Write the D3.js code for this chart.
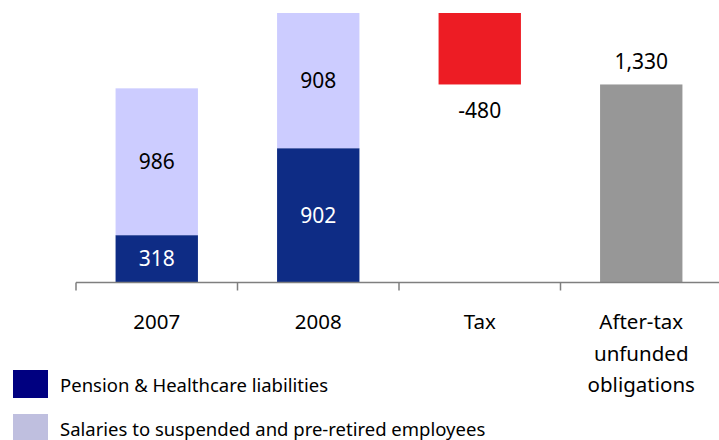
<!DOCTYPE html>
<html>
<head>
<meta charset="utf-8">
<script src="https://cdn.jsdelivr.net/npm/d3@7"></script>
<style>
  html, body { margin: 0; padding: 0; background: #fff; }
  svg { display: block; font-family: "Noto Sans", "Open Sans", sans-serif; }
</style>
</head>
<body>
<svg id="chart" width="719" height="440"></svg>
<script>
// Unfunded obligations walk (waterfall)
const categories = ["2007", "2008", "Tax", "After-tax unfunded obligations"];
const categoryLines = [["2007"], ["2008"], ["Tax"], ["After-tax", "unfunded", "obligations"]];
const stackYears = ["2007", "2008"];
const pensionValues = [318, 902];
const salaryValues = [986, 908];
const taxValue = -480;
const afterTaxValue = 1330;
const legendLabels = ["Pension & Healthcare liabilities", "Salaries to suspended and pre-retired employees"];

const colors = {
  pension: "#0e2c85",
  salary: "#ccccff",
  tax: "#ed1c24",
  afterTax: "#979797",
  legendPension: "#000080",
  legendSalary: "#bfbfdf",
  axis: "#7f7f7f"
};

const svg = d3.select("#chart");

const x = d3.scaleBand()
  .domain(categories)
  .range([76, 722])
  .paddingInner(0.49)
  .paddingOuter(0.245);

const maxTotal = pensionValues[1] + salaryValues[1];
const y = d3.scaleLinear().domain([0, maxTotal]).range([282.5, 13]);

// thousands separator with a plain hyphen for negatives
const locale = d3.formatLocale({ decimal: ".", thousands: ",", grouping: [3], currency: ["", ""], minus: "-" });
const fmt = locale.format(",");

// Stacked year bars
const stackRows = stackYears.map((yr, i) => ({ cat: yr, pension: pensionValues[i], salary: salaryValues[i] }));
const stack = d3.stack().keys(["pension", "salary"])(stackRows);

const segColor = { pension: colors.pension, salary: colors.salary };
const segText = { pension: "#ffffff", salary: "#000000" };

stack.forEach(layer => {
  const g = svg.append("g");
  g.selectAll("rect")
    .data(layer)
    .join("rect")
    .attr("x", d => x(d.data.cat))
    .attr("width", x.bandwidth())
    .attr("y", d => y(d[1]))
    .attr("height", d => y(d[0]) - y(d[1]))
    .attr("fill", segColor[layer.key]);
  g.selectAll("text")
    .data(layer)
    .join("text")
    .attr("x", d => x(d.data.cat) + x.bandwidth() / 2)
    .attr("y", d => (y(d[0]) + y(d[1])) / 2)
    .attr("dy", "0.36em")
    .attr("text-anchor", "middle")
    .attr("font-size", 21)
    .attr("fill", segText[layer.key])
    .text(d => fmt(d[1] - d[0]));
});

// Tax step bar hanging from the 2008 total
const taxTop = maxTotal;
const taxBottom = maxTotal + taxValue;
svg.append("rect")
  .attr("x", x("Tax"))
  .attr("width", x.bandwidth())
  .attr("y", y(taxTop))
  .attr("height", y(taxBottom) - y(taxTop))
  .attr("fill", colors.tax);
svg.append("text")
  .attr("x", x("Tax") + x.bandwidth() / 2)
  .attr("y", y(taxBottom) + 26)
  .attr("dy", "0.36em")
  .attr("text-anchor", "middle")
  .attr("font-size", 21)
  .text(fmt(taxValue));

// After-tax total bar
const lastCat = categories[3];
svg.append("rect")
  .attr("x", x(lastCat))
  .attr("width", x.bandwidth())
  .attr("y", y(afterTaxValue))
  .attr("height", y(0) - y(afterTaxValue))
  .attr("fill", colors.afterTax);
svg.append("text")
  .attr("x", x(lastCat) + x.bandwidth() / 2)
  .attr("y", y(afterTaxValue) - 23)
  .attr("dy", "0.36em")
  .attr("text-anchor", "middle")
  .attr("font-size", 21)
  .text(fmt(afterTaxValue));

// Category axis with ticks between categories
const axisG = svg.append("g");
const x0 = x.range()[0];
axisG.append("line")
  .attr("x1", x0).attr("x2", 719)
  .attr("y1", y(0)).attr("y2", y(0))
  .attr("stroke", colors.axis).attr("stroke-width", 1.5);
const boundaries = d3.range(categories.length + 1).map(i => x0 + i * x.step());
axisG.selectAll("line.tick")
  .data(boundaries)
  .join("line")
  .attr("class", "tick")
  .attr("x1", d => d).attr("x2", d => d)
  .attr("y1", y(0)).attr("y2", y(0) + 8)
  .attr("stroke", colors.axis).attr("stroke-width", 1.5);

categories.forEach((c, i) => {
  const t = axisG.append("text")
    .attr("x", x(c) + x.bandwidth() / 2)
    .attr("y", 322)
    .attr("text-anchor", "middle")
    .attr("font-size", 20.5);
  categoryLines[i].forEach((line, j) => {
    t.append("tspan")
      .attr("x", x(c) + x.bandwidth() / 2)
      .attr("dy", j === 0 ? "0.36em" : 31.5)
      .text(line);
  });
});

// Legend
const legend = svg.append("g");
const legendColors = [colors.legendPension, colors.legendSalary];
const legendY = [370, 414];
legendLabels.forEach((lab, i) => {
  legend.append("rect")
    .attr("x", 13).attr("y", legendY[i])
    .attr("width", 35).attr("height", 28)
    .attr("fill", legendColors[i]);
  legend.append("text")
    .attr("x", 60).attr("y", legendY[i] + 15)
    .attr("dy", "0.36em")
    .attr("font-size", 18.5)
    .text(lab);
});
</script>
</body>
</html>
